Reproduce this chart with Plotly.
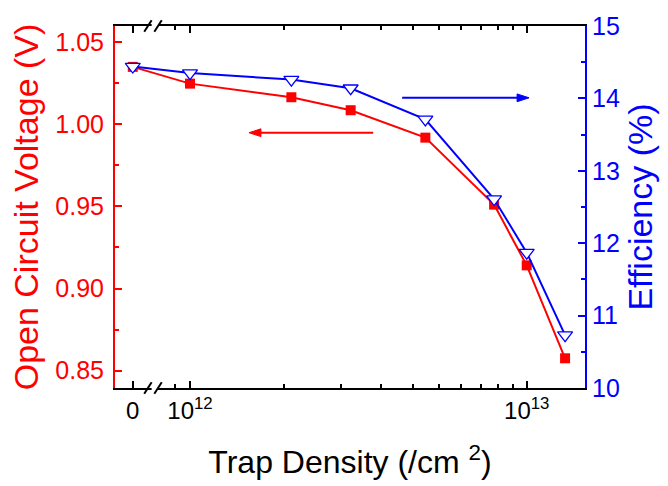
import math
import plotly.graph_objects as go

# ---- data ----
trap_density = [0, 1e12, 2e12, 3e12, 5e12, 8e12, 1e13, 1.3e13]   # /cm^2
voc = [1.035, 1.0248, 1.0165, 1.0086, 0.9919, 0.9511, 0.9141, 0.8575]  # V
efficiency = [14.44, 14.35, 14.26, 14.14, 13.71, 12.61, 11.87, 10.73]  # %

x_tick_labels = ["0", "10<sup>12</sup>", "10<sup>13</sup>"]
x_tick_values = [0, 1e12, 1e13]
x_minor_values = [9e11] + [1e12 + k * 0.9e12 for k in range(1, 10)]

# broken axis: 0 is placed left of the break, the rest on a log10 scale
ZERO_POS = 11.83


def xpos(v):
    return ZERO_POS if v == 0 else math.log10(v)


FONT = "Arial, Liberation Sans, sans-serif"
RED = "#ff0000"
BLUE = "#0000ff"

xs = [xpos(v) for v in trap_density]

fig = go.Figure()
fig.add_trace(go.Scatter(
    x=xs, y=voc, mode="lines+markers", yaxis="y",
    line=dict(color=RED, width=2),
    marker=dict(symbol="square", size=10, color=RED),
    showlegend=False,
))
fig.add_trace(go.Scatter(
    x=xs, y=efficiency, mode="lines+markers", yaxis="y2",
    line=dict(color=BLUE, width=2),
    marker=dict(symbol="triangle-down", size=13, color="white",
                line=dict(color=BLUE, width=1.3)),
    showlegend=False,
))

fig.update_layout(
    width=668, height=486,
    margin=dict(l=115, r=83, t=15, b=98),
    paper_bgcolor="white", plot_bgcolor="white",
    font=dict(family=FONT, size=24, color="black"),
    xaxis=dict(
        range=[11.7772, 13.1731],
        tickmode="array",
        tickvals=[xpos(v) for v in x_tick_values],
        ticktext=x_tick_labels,
        ticks="inside", ticklen=7, tickwidth=1.5, tickcolor="black",
        showline=True, linecolor="black", linewidth=2, mirror="ticks",
        showgrid=False, zeroline=False,
        tickfont=dict(size=24, color="black"),
        minor=dict(tickmode="array", tickvals=[xpos(v) for v in x_minor_values],
                   ticks="inside", ticklen=4, tickwidth=1.5, tickcolor="black",
                   showgrid=False),
        title=dict(text="Trap Density (/cm <sup>2</sup>)",
                   font=dict(size=32, color="black"), standoff=28),
    ),
    yaxis=dict(
        range=[0.8394, 1.0599],
        tickmode="array", tickvals=[0.85, 0.90, 0.95, 1.00, 1.05],
        ticktext=["0.85", "0.90", "0.95", "1.00", "1.05"],
        ticks="inside", ticklen=7, tickwidth=1.5, tickcolor=RED,
        ticklabelstandoff=4,
        showline=True, linecolor=RED, linewidth=2,
        showgrid=False, zeroline=False,
        tickfont=dict(size=25, color=RED),
        minor=dict(tickmode="array", tickvals=[0.875, 0.925, 0.975, 1.025],
                   ticks="inside", ticklen=4, tickwidth=1.5, tickcolor=RED,
                   showgrid=False),
        title=dict(text="Open Circuit Voltage (V)",
                   font=dict(size=34, color=RED), standoff=6),
    ),
    yaxis2=dict(
        range=[10, 15], overlaying="y", side="right",
        tickmode="array", tickvals=[10, 11, 12, 13, 14, 15],
        ticks="inside", ticklen=7, tickwidth=1.5, tickcolor=BLUE,
        showline=True, linecolor=BLUE, linewidth=2,
        showgrid=False, zeroline=False,
        tickfont=dict(size=25, color=BLUE),
        minor=dict(tickmode="array", tickvals=[10.5, 11.5, 12.5, 13.5, 14.5],
                   ticks="inside", ticklen=4, tickwidth=1.5, tickcolor=BLUE,
                   showgrid=False),
        title=dict(text="Efficiency (%)",
                   font=dict(size=34, color=BLUE), standoff=9),
    ),
)

# axis-break marks on bottom and top axes
for yp in (0, 1):
    fig.add_shape(type="rect", xref="x", yref="paper",
                  x0=11.886, x1=11.905, y0=yp - 0.012, y1=yp + 0.012,
                  fillcolor="white", line=dict(width=0), layer="above")
    for xc in (11.875, 11.905):
        fig.add_shape(type="line", xref="x", yref="paper",
                      x0=xc - 0.011, x1=xc + 0.011, y0=yp - 0.016, y1=yp + 0.016,
                      line=dict(color="black", width=2), layer="above")

# direction arrows (shaft + head)
# red: points left towards the Voc axis
fig.add_shape(type="line", xref="x", yref="y", x0=12.544, x1=12.20,
              y0=0.9949, y1=0.9949, line=dict(color=RED, width=2))
fig.add_shape(type="path", xref="x", yref="y",
              path="M 12.175,0.9949 L 12.2106,0.99726 L 12.2106,0.99254 Z",
              fillcolor=RED, line=dict(color=RED, width=1))
# blue: points right towards the efficiency axis
fig.add_shape(type="line", xref="x", yref="y2", x0=12.63, x1=12.98,
              y0=14.008, y1=14.008, line=dict(color=BLUE, width=2))
fig.add_shape(type="path", xref="x", yref="y2",
              path="M 13.007,14.008 L 12.9714,14.0616 L 12.9714,13.9544 Z",
              fillcolor=BLUE, line=dict(color=BLUE, width=1))

fig.write_html("out.html")
